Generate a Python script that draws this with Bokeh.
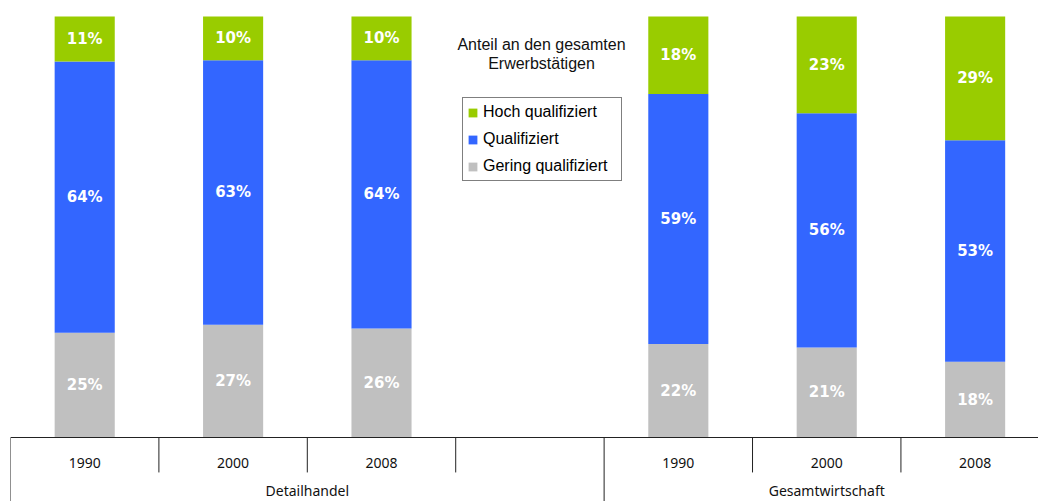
from bokeh.plotting import figure
from bokeh.models import ColumnDataSource, Range1d, Span, Legend, LegendItem, Label
from bokeh.core.properties import value
from bokeh.embed import file_html
from bokeh.resources import INLINE

# ---- data ----
groups = ["Detailhandel", "Gesamtwirtschaft"]
years = ["1990", "2000", "2008", "", "1990", "2000", "2008"]
group_of_cat = [0, 0, 0, 0, 1, 1, 1]
bar_slots = [0, 1, 2, 4, 5, 6]          # category slot of each bar (slot 3 is empty)
hoch = [10.7, 10.4, 10.4, 18.4, 23.0, 29.4]
qualifiziert = [64.4, 62.8, 63.7, 59.4, 55.6, 52.6]
gering = [24.9, 26.8, 25.9, 22.2, 21.4, 18.0]
series_names = ["Hoch qualifiziert", "Qualifiziert", "Gering qualifiziert"]
colors = ["#99CC00", "#3366FF", "#C0C0C0"]
title_lines = ["Anteil an den gesamten", "Erwerbstätigen"]

n_cat = len(years)
xc = [s + 0.5 for s in bar_slots]

p = figure(width=1038, height=501, output_backend="svg", toolbar_location=None,
           x_range=Range1d(0, 6.927), y_range=Range1d(-15.2, 103.8),
           min_border_left=10, min_border_right=0, min_border_top=0, min_border_bottom=0)
p.outline_line_color = None
p.xaxis.visible = False
p.yaxis.visible = False
p.xgrid.visible = False
p.ygrid.visible = False
p.background_fill_color = "white"
p.border_fill_color = "white"

bw = 0.405
b0 = [0.0] * len(xc)
t0 = gering
t1 = [g + q for g, q in zip(gering, qualifiziert)]
t2 = [a + h for a, h in zip(t1, hoch)]

src = ColumnDataSource(dict(x=xc, b0=b0, t0=t0, t1=t1, t2=t2))
r_ger = p.vbar(x="x", bottom="b0", top="t0", width=bw, source=src, fill_color=colors[2], line_color=None)
r_qua = p.vbar(x="x", bottom="t0", top="t1", width=bw, source=src, fill_color=colors[1], line_color=None)
r_hoc = p.vbar(x="x", bottom="t1", top="t2", width=bw, source=src, fill_color=colors[0], line_color=None)

# segment labels
lx, ly, lt = [], [], []
for i in range(len(xc)):
    for bot, val in ((0.0, gering[i]), (t0[i], qualifiziert[i]), (t1[i], hoch[i])):
        lx.append(xc[i]); ly.append(bot + val / 2); lt.append(f"{val:.0f}%")
p.text(x=lx, y=ly, text=lt, text_color="white", text_font=value("DejaVu Sans"),
       text_font_style="bold", text_font_size="15px", text_align="center",
       text_baseline="middle")

# category axis (table style)
p.add_layout(Span(location=0, dimension="width", line_color="#222222", line_width=1))
bounds = list(range(n_cat))
long_b = [b for b in bounds if b == 0 or group_of_cat[b] != group_of_cat[b - 1]]
short_b = [b for b in bounds if b not in long_b]
p.segment(x0=short_b, y0=[0] * len(short_b), x1=short_b, y1=[-8.3] * len(short_b),
          line_color="#222222", line_width=1)
p.segment(x0=long_b, y0=[0] * len(long_b), x1=long_b, y1=[-15.2] * len(long_b),
          line_color="#222222", line_width=1)
p.text(x=[i + 0.5 for i in range(n_cat)], y=[0] * n_cat, text=years, y_offset=25,
       text_font=value("Noto Sans"), text_font_size="14px", text_color="#111111",
       text_align="center", text_baseline="alphabetic")
gx = []
for g in range(len(groups)):
    idx = [i for i in range(n_cat) if group_of_cat[i] == g]
    gx.append((idx[0] + idx[-1] + 1) / 2)
p.text(x=gx, y=[0] * len(gx), text=groups, y_offset=53,
       text_font=value("Noto Sans"), text_font_size="14px", text_color="#111111",
       text_align="center", text_baseline="alphabetic")

# title above legend
for k, line in enumerate(title_lines):
    p.add_layout(Label(x=531, y=457 - 19 * k, x_units="screen", y_units="screen", text=line,
                       text_font="Liberation Sans", text_font_size="16px", text_color="#111111",
                       text_align="center", text_baseline="alphabetic"))

legend = Legend(items=[LegendItem(label=series_names[0], renderers=[r_hoc]),
                       LegendItem(label=series_names[1], renderers=[r_qua]),
                       LegendItem(label=series_names[2], renderers=[r_ger])],
                location=(452, 320), orientation="vertical",
                border_line_color="black", border_line_width=1,
                background_fill_color="white", background_fill_alpha=1,
                label_text_font="Liberation Sans", label_text_font_size="16px",
                label_text_color="black", glyph_width=11, glyph_height=11,
                label_height=20, label_width=134, spacing=7, padding=4, margin=0,
                label_standoff=5)
p.add_layout(legend)

open("out.html", "w").write(file_html(p, INLINE))
